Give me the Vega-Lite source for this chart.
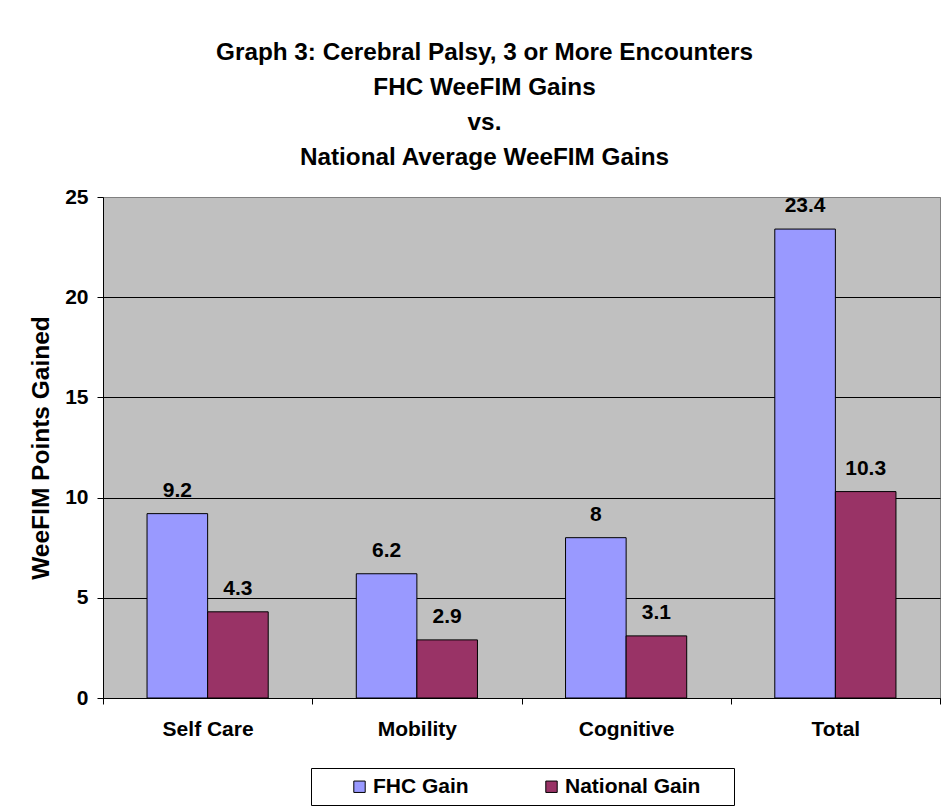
{
  "$schema": "https://vega.github.io/schema/vega-lite/v6.json",
  "autosize": {"type": "none"},
  "width": 837,
  "height": 501,
  "padding": {"left": 103, "top": 197, "right": 1, "bottom": 110},
  "background": "white",
  "config": {
    "font": "Liberation Sans",
    "view": {"fill": "#C0C0C0", "stroke": "#808080", "strokeWidth": 1}
  },
  "title": {
    "text": ["Graph 3: Cerebral Palsy, 3 or More Encounters", "FHC WeeFIM Gains", "vs.", "National Average WeeFIM Gains"],
    "fontSize": 24.3,
    "fontWeight": "bold",
    "font": "Liberation Sans",
    "color": "black",
    "lineHeight": 35,
    "anchor": "middle",
    "frame": "group",
    "dx": -37,
    "offset": 16
  },
  "data": {
    "values": [
      {"category": "Self Care", "series": "FHC Gain", "gain": 9.2, "label": "9.2"},
      {"category": "Self Care", "series": "National Gain", "gain": 4.3, "label": "4.3"},
      {"category": "Mobility", "series": "FHC Gain", "gain": 6.2, "label": "6.2"},
      {"category": "Mobility", "series": "National Gain", "gain": 2.9, "label": "2.9"},
      {"category": "Cognitive", "series": "FHC Gain", "gain": 8, "label": "8"},
      {"category": "Cognitive", "series": "National Gain", "gain": 3.1, "label": "3.1"},
      {"category": "Total", "series": "FHC Gain", "gain": 23.4, "label": "23.4"},
      {"category": "Total", "series": "National Gain", "gain": 10.3, "label": "10.3"}
    ]
  },
  "encoding": {
    "x": {
      "field": "category",
      "type": "nominal",
      "sort": ["Self Care", "Mobility", "Cognitive", "Total"],
      "scale": {"paddingInner": 0, "paddingOuter": 0},
      "axis": {
        "title": null,
        "labelAngle": 0,
        "labelFontSize": 21,
        "labelFontWeight": "bold",
        "labelColor": "black",
        "labelPadding": 14,
        "domainColor": "black",
        "tickColor": "black",
        "tickSize": 6,
        "tickBand": "extent"
      }
    },
    "xOffset": {
      "field": "series",
      "type": "nominal",
      "sort": ["FHC Gain", "National Gain"],
      "scale": {"paddingInner": 0, "paddingOuter": 0.727}
    },
    "y": {
      "field": "gain",
      "type": "quantitative",
      "scale": {"domain": [0, 25], "nice": false},
      "axis": {
        "title": "WeeFIM Points Gained",
        "titleFontSize": 24.5,
        "titleFontWeight": "bold",
        "titleColor": "black",
        "titlePadding": 11,
        "values": [0, 5, 10, 15, 20, 25],
        "labelFontSize": 21,
        "labelFontWeight": "bold",
        "labelColor": "black",
        "labelPadding": 9,
        "domainColor": "black",
        "tickColor": "black",
        "tickSize": 6,
        "grid": true,
        "gridColor": {"condition": {"test": "datum.value == 25", "value": "#808080"}, "value": "black"},
        "gridOpacity": 1
      }
    }
  },
  "layer": [
    {
      "mark": {"type": "bar", "stroke": "black", "strokeWidth": 1},
      "encoding": {
        "color": {
          "field": "series",
          "type": "nominal",
          "sort": ["FHC Gain", "National Gain"],
          "scale": {"domain": ["FHC Gain", "National Gain"], "range": ["#9999FF", "#993366"]},
          "legend": {
            "title": " ",
            "titleOrient": "right",
            "titlePadding": 26,
            "titleFontSize": 21,
            "orient": "none",
            "legendX": 208,
            "legendY": 571,
            "direction": "horizontal",
            "symbolType": "square",
            "symbolSize": 130,
            "symbolStrokeColor": "black",
            "symbolStrokeWidth": 1,
            "symbolOpacity": 1,
            "labelFontSize": 21,
            "labelFontWeight": "bold",
            "labelColor": "black",
            "labelOffset": 3,
            "columnPadding": 42,
            "padding": 8,
            "symbolOffset": 30,
            "strokeColor": "black",
            "fillColor": "white"
          }
        }
      }
    },
    {
      "mark": {"type": "text", "baseline": "alphabetic", "dy": -17, "fontSize": 21, "fontWeight": "bold", "color": "black"},
      "encoding": {
        "text": {"field": "label"}
      }
    }
  ]
}
